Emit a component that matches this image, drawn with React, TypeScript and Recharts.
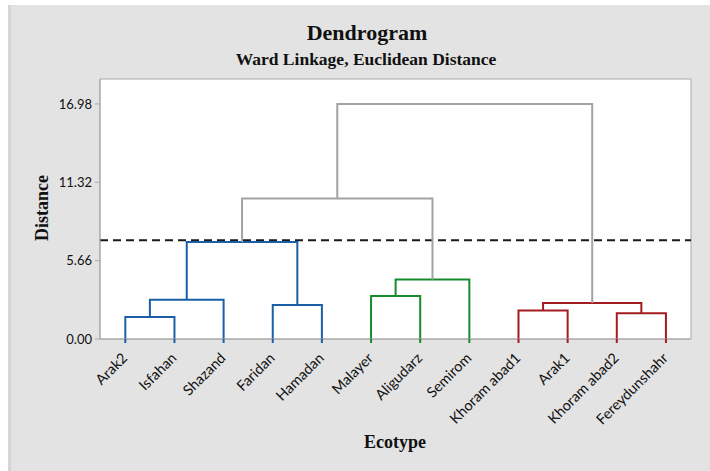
import {
  ComposedChart, Line, XAxis, YAxis, ReferenceLine, ReferenceArea,
} from 'recharts';

// ─── Data ──────────────────────────────────────────────────────────────────────
const ecotypes = [
  'Arak2', 'Isfahan', 'Shazand', 'Faridan', 'Hamadan', 'Malayer',
  'Aligudarz', 'Semirom', 'Khoram abad1', 'Arak1', 'Khoram abad2', 'Fereydunshahr',
];

// linkage: leaves are 0..11, merged clusters get ids 12, 13, ...
const mergeLeft     = [0, 12, 3, 13, 5, 16, 15, 8, 10, 19, 18];
const mergeRight    = [1, 2, 4, 14, 6, 7, 17, 9, 11, 20, 21];
const mergeDistance = [1.59, 2.84, 2.46, 7.0, 3.11, 4.29, 10.15, 2.05, 1.86, 2.6, 16.98];
const mergeGroup    = ['blue', 'blue', 'blue', 'blue', 'green', 'green', 'gray', 'red', 'red', 'red', 'gray'];

const yTicks = [0, 5.66, 11.32, 16.98];
const cutDistance = 7.14;

// ─── Colour tokens ─────────────────────────────────────────────────────────────
const CLR: Record<string, string> = {
  blue:  '#1c5fa9',
  green: '#178a2c',
  red:   '#a31c20',
  gray:  '#a3a3a3',
  frame: '#a8a8a8',
  text:  '#111111',
  bg:    '#e3e3e3',
};

const SANS = 'Lato, "Noto Sans", sans-serif';
const SERIF = '"Liberation Serif", "Times New Roman", serif';

// ─── Dendrogram layout ─────────────────────────────────────────────────────────
function buildLinks() {
  const n = ecotypes.length;
  const xs: number[] = ecotypes.map((_, i) => i + 1);
  const hs: number[] = ecotypes.map(() => 0);
  const leafColor: string[] = ecotypes.map(() => CLR.gray);
  const links: { id: string; color: string; pts: { x: number; y: number }[] }[] = [];

  mergeLeft.forEach((l, k) => {
    const r = mergeRight[k];
    const h = mergeDistance[k];
    const color = CLR[mergeGroup[k]];
    links.push({
      id: `m${k}`,
      color,
      pts: [
        { x: xs[l], y: hs[l] },
        { x: xs[l], y: h },
        { x: xs[r], y: h },
        { x: xs[r], y: hs[r] },
      ],
    });
    if (l < n) leafColor[l] = color;
    if (r < n) leafColor[r] = color;
    xs.push((xs[l] + xs[r]) / 2);
    hs.push(h);
  });
  return { links, leafColor };
}

const { links, leafColor } = buildLinks();

function LeafTick(props: any) {
  const { x, y, payload } = props;
  const i = payload.value - 1;
  if (i < 0 || i >= ecotypes.length) return null;
  return (
    <g>
      <line x1={x} x2={x} y1={y} y2={y + 4} stroke={leafColor[i]} strokeWidth={2} />
      <text
        x={0} y={0}
        transform={`translate(${x + 3},${y + 20}) rotate(-45)`}
        textAnchor="end"
        fontFamily={SANS}
        fontSize={14.5}
        fill={CLR.text}
      >
        {ecotypes[i]}
      </text>
    </g>
  );
}

export default function App() {
  const leafTicks = ecotypes.map((_, i) => i + 1);
  return (
    <div style={{ position: 'absolute', left: 0, top: 0, width: 710, height: 471, background: '#fff', overflow: 'hidden' }}>
      <div style={{ position: 'absolute', left: 8, top: 5, right: 0, bottom: 0, background: CLR.bg, borderLeft: '3px solid #d6d6d6' }} />
      <div style={{ position: 'absolute', left: 0, top: 0 }}>
        <ComposedChart width={710} height={471} margin={{ top: 79, right: 19, left: 60, bottom: 32 }}>
          <ReferenceArea
            x1={0.485} x2={12.51} y1={0} y2={18.78}
            fill="#ffffff" fillOpacity={1}
            stroke={CLR.frame} strokeWidth={1}
          />
          <XAxis
            type="number"
            dataKey="x"
            domain={[0.485, 12.51]}
            ticks={leafTicks}
            interval={0}
            height={100}
            tickSize={0}
            tickMargin={0}
            tickLine={false}
            axisLine={{ stroke: CLR.frame }}
            tick={<LeafTick />}
            allowDataOverflow
          />
          <YAxis
            type="number"
            dataKey="y"
            domain={[0, 18.78]}
            ticks={yTicks}
            width={40}
            tickSize={5}
            tickMargin={3}
            tickLine={{ stroke: CLR.frame }}
            axisLine={{ stroke: CLR.frame }}
            tickFormatter={(v: number) => v.toFixed(2)}
            tick={{ fontFamily: SANS, fontSize: 13, fill: CLR.text }}
            allowDataOverflow
          />
          <ReferenceLine
            y={cutDistance}
            stroke="#1a1a1a"
            strokeWidth={2}
            strokeDasharray="8 5"
          />
          {links.map(l => (
            <Line
              key={l.id}
              data={l.pts}
              dataKey="y"
              type="linear"
              stroke={l.color}
              strokeWidth={2}
              dot={false}
              activeDot={false}
              isAnimationActive={false}
            />
          ))}
        </ComposedChart>
      </div>
      <svg width={710} height={471} style={{ position: 'absolute', left: 0, top: 0, pointerEvents: 'none' }}>
        <text x={367} y={40} textAnchor="middle" fontFamily={SERIF} fontWeight="bold" fontSize={22} fill="#111">
          Dendrogram
        </text>
        <text x={366} y={65} textAnchor="middle" fontFamily={SERIF} fontWeight="bold" fontSize={17.5} fill="#111">
          Ward Linkage, Euclidean Distance
        </text>
        <text
          transform="translate(48,208) rotate(-90)"
          textAnchor="middle" fontFamily={SERIF} fontWeight="bold" fontSize={18} fill="#111"
        >
          Distance
        </text>
        <text x={395} y={448} textAnchor="middle" fontFamily={SERIF} fontWeight="bold" fontSize={18} fill="#111">
          Ecotype
        </text>
      </svg>
    </div>
  );
}
